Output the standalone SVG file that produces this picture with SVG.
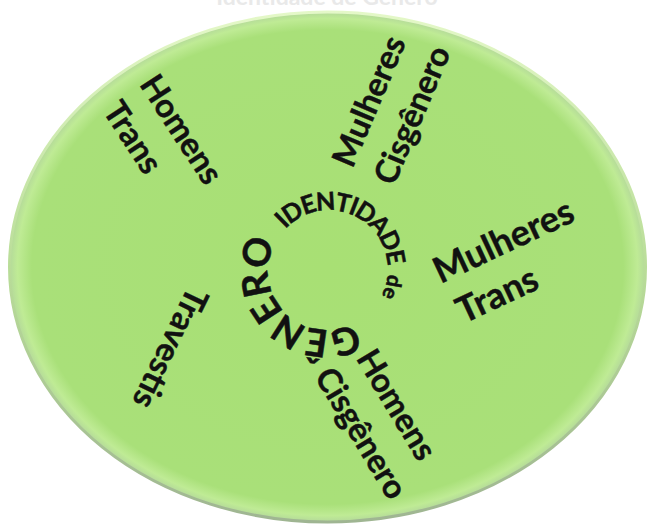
<svg xmlns="http://www.w3.org/2000/svg" xmlns:xlink="http://www.w3.org/1999/xlink" width="647" height="524" viewBox="0 0 647 524">
<style>
.lbl{font-family:Lato,"Liberation Sans",sans-serif;font-weight:700;font-size:33px;fill:#111;stroke:#111;stroke-width:0.4;}
.big{font-size:36px;}
.arc{font-family:Lato,"Liberation Sans",sans-serif;font-weight:700;fill:#111;stroke:#111;stroke-width:0.5;}
.ttl{font-family:Lato,"Liberation Sans",sans-serif;font-weight:700;font-size:23px;fill:#e9e9e9;}
</style>
<defs>
<radialGradient id="body" cx="50%" cy="50%" r="50%">
<stop offset="0" stop-color="#a8e074"/>
<stop offset="0.93" stop-color="#a9e079"/>
<stop offset="0.975" stop-color="#bfeb95"/>
<stop offset="1" stop-color="#b4d99a"/>
</radialGradient>
<linearGradient id="rim" x1="0" y1="0" x2="0" y2="1">
<stop offset="0" stop-color="#e4f8c8"/>
<stop offset="0.5" stop-color="#b9dd98"/>
<stop offset="1" stop-color="#9fb592"/>
</linearGradient>
<path id="ring" d="M282.8,232.1 A59,59 0 1,1 373.2,307.9 A59,59 0 1,1 282.8,232.1"/>
</defs>
<rect width="647" height="524" fill="#ffffff"/>
<text class="ttl" x="327" y="5" text-anchor="middle">Identidade de Gênero</text>
<g id="disc">
<ellipse cx="327.5" cy="267" rx="318" ry="255" fill="url(#body)" stroke="url(#rim)" stroke-width="3"/>
</g>
<g id="center-title">
<text class="arc" font-size="25" letter-spacing="-1.5"><textPath xlink:href="#ring" startOffset="4">IDENTIDADE</textPath></text>
<text class="arc" font-size="21"><textPath xlink:href="#ring" startOffset="150">de</textPath></text>
<text class="arc" font-size="38" letter-spacing="-0.6"><textPath xlink:href="#ring" startOffset="211">GÊNERO</textPath></text>
</g>
<g id="homens-trans" transform="translate(161,139) rotate(57)">
<text class="lbl" x="-58" y="-11">Homens</text>
<text class="lbl" x="-56" y="34">Trans</text>
</g>
<g id="mulheres-cisgenero" transform="translate(390,109) rotate(-67)">
<text class="lbl" x="-70" y="-11">Mulheres</text>
<text class="lbl" x="-70" y="34">Cisgênero</text>
</g>
<g id="mulheres-trans" transform="translate(505,266) rotate(-25)">
<text class="lbl big" x="-66" y="-11">Mulheres</text>
<text class="lbl big" x="-62" y="35">Trans</text>
</g>
<g id="travestis" transform="translate(170,348) rotate(116)">
<text class="lbl" x="0" y="11" text-anchor="middle">Travestis</text>
</g>
<g id="homens-cisgenero" transform="translate(378,417) rotate(59)">
<text class="lbl" x="-62" y="-11">Homens</text>
<text class="lbl" x="-68" y="34">Cisgênero</text>
</g>
<g id="connectors"></g>
</svg>
